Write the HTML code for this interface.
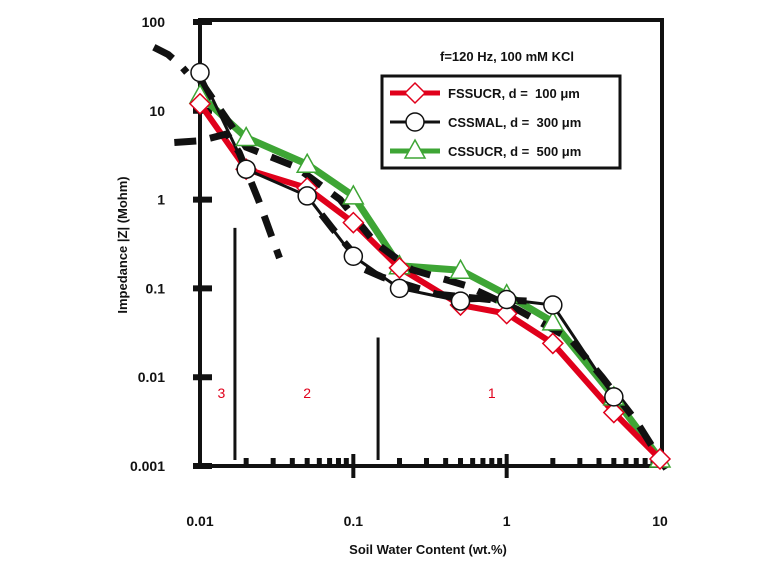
<!DOCTYPE html>
<html><head><meta charset="utf-8"><style>
body{margin:0;background:#fff;}
svg{display:block;font-family:"Liberation Sans",sans-serif;}
</style></head><body>
<svg id="c" width="760" height="566"></svg>
<script>
const xTickVals=[0.01,0.1,1,10];
const xTickLabels=["0.01","0.1","1","10"];
const yTickVals=[100,10,1,0.1,0.01,0.001];
const yTickLabels=["100","10","1","0.1","0.01","0.001"];
const fsX=[0.01,0.02,0.05,0.1,0.2,0.5,1,2,5,10];
const fsY=[12,2.2,1.35,0.55,0.17,0.065,0.052,0.024,0.004,0.0012];
const csmX=[0.01,0.02,0.05,0.1,0.2,0.5,1,2,5];
const csmY=[27,2.2,1.1,0.23,0.1,0.072,0.075,0.065,0.006];
const csuX=[0.01,0.02,0.05,0.1,0.2,0.5,1,2,5,10];
const csuY=[15,5,2.5,1.1,0.18,0.16,0.085,0.042,0.006,0.0012];
const fitAX=[0.0050,0.0062,0.0074,0.0082];
const fitAY=[52,43,33,27];
const fitBX=[0.0068,0.01,0.015,0.018,0.024,0.033];
const fitBY=[4.4,4.6,5.5,3.4,1.0,0.22];
const fitCX=[0.01,0.02,0.042,0.082,0.138,0.24,0.54,1.17,2.6,4.2,7.0,11.0];
const fitCY=[22,3.9,2.35,1.0,0.33,0.163,0.108,0.058,0.027,0.01,0.0032,0.00093];
const fitEX=[0.062,0.074,0.1,0.107,0.156,0.35,0.77,1.65];
const fitEY=[0.68,0.46,0.25,0.177,0.133,0.086,0.075,0.071];
const regionLabels=["3","2","1"];
const regionX=[0.0138,0.05,0.8];
const sepX=[0.0169,0.145];
const sepTop=[0.48,0.028];

const X0=200,X1=660,Y0=466,Y1=22;
function sx(v){return X0+(Math.log10(v)+2)/3*(X1-X0);}
function sy(v){return Y0-(Math.log10(v)+3)/5*(Y0-Y1);}
const svg=document.getElementById('c');
const NS='http://www.w3.org/2000/svg';
function el(t,a,p){const e=document.createElementNS(NS,t);for(const k in a)e.setAttribute(k,a[k]);(p||svg).appendChild(e);return e;}
function txt(x,y,s,a){const e=el('text',Object.assign({x:x,y:y},a||{}));e.textContent=s;return e;}

let f=el('path',{d:`M${X0} ${Y0}V20H${X1+2}V${Y0}`,fill:'none',stroke:'#111','stroke-width':4});

let xa=el('line',{x1:X0,y1:Y0,x2:X1+2,y2:Y0,stroke:'#111','stroke-width':4});

yTickVals.forEach((v,i)=>{
 let t=el('line',{x1:193,x2:212,y1:sy(v),y2:sy(v),stroke:'#111','stroke-width':6});
 
 let l=txt(165,sy(v)+5,yTickLabels[i],{'text-anchor':'end','font-size':14,'font-weight':'bold',fill:'#111'});
 
});
for(let d=-2;d<1;d++){for(let m=2;m<=9;m++){
 const x=sx(m*Math.pow(10,d));
 let t=el('rect',{x:x-2.5,y:Y0-8,width:5,height:8,fill:'#111'});
 
}}
xTickVals.forEach((v,i)=>{
 if(i>0&&i<3){let t=el('line',{x1:sx(v),x2:sx(v),y1:Y0-12,y2:Y0+12,stroke:'#111','stroke-width':4});
 }
 let l=txt(sx(v),Y0+60,xTickLabels[i],{'text-anchor':'middle','font-size':14,'font-weight':'bold',fill:'#111'});
 
});
sepX.forEach((v,i)=>{let s=el('line',{x1:sx(v),x2:sx(v),y1:sy(sepTop[i]),y2:Y0-6,stroke:'#111','stroke-width':3});
 });
regionLabels.forEach((s,i)=>{let l=txt(sx(regionX[i]),398,s,{'text-anchor':'middle','font-size':14,fill:'#e0001b'});
 });

function pts(xs,ys){return xs.map((x,i)=>sx(x)+','+sy(ys[i])).join(' ');}
let g=el('polyline',{points:pts(csuX,csuY),fill:'none',stroke:'#3ea535','stroke-width':7,'stroke-linejoin':'round'});

let r=el('polyline',{points:pts(fsX,fsY),fill:'none',stroke:'#e0001b','stroke-width':6,'stroke-linejoin':'round'});

let b=el('polyline',{points:pts(csmX,csmY),fill:'none',stroke:'#111','stroke-width':3});

[[fitAX,fitAY],[fitBX,fitBY],[fitCX,fitCY],[fitEX,fitEY]].forEach(([xs,ys])=>{
 let d=el('polyline',{points:pts(xs,ys),fill:'none',stroke:'#111','stroke-width':7,'stroke-dasharray':'22 14'});
 
});
function tri(x,y,s){return `${x},${y-s} ${x+s},${y+s*0.8} ${x-s},${y+s*0.8}`;}
csuX.forEach((x,i)=>{let m=el('polygon',{points:tri(sx(x),sy(csuY[i]),10),fill:'#fff',stroke:'#3ea535','stroke-width':1.5});
 });
fsX.forEach((x,i)=>{const cx=sx(x),cy=sy(fsY[i]);let m=el('polygon',{points:`${cx},${cy-10} ${cx+10},${cy} ${cx},${cy+10} ${cx-10},${cy}`,fill:'#fff',stroke:'#e0001b','stroke-width':1.5});
 });
csmX.forEach((x,i)=>{let m=el('circle',{cx:sx(x),cy:sy(csmY[i]),r:9,fill:'#fff',stroke:'#111','stroke-width':1.5});
 });

let lt=txt(507,61,'f=120 Hz, 100 mM KCl',{'text-anchor':'middle','font-size':13,'font-weight':'bold',fill:'#111'});

let lb=el('rect',{x:382,y:76,width:238,height:92,fill:'#fff',stroke:'#111','stroke-width':3});

const legNames=['FSSUCR, d =\u00a0\u00a0100 \u03bcm','CSSMAL, d =\u00a0\u00a0300 \u03bcm','CSSUCR, d =\u00a0\u00a0500 \u03bcm'];
const legCols=['#e0001b','#111','#3ea535'];
legNames.forEach((n,i)=>{const y=93+i*29;
 let ln=el('line',{x1:390,x2:440,y1:y,y2:y,stroke:legCols[i],'stroke-width':i==1?3:5});
 
 let m;
 if(i==0)m=el('polygon',{points:`415,${y-10} 425,${y} 415,${y+10} 405,${y}`,fill:'#fff',stroke:legCols[i],'stroke-width':1.5});
 else if(i==1)m=el('circle',{cx:415,cy:y,r:9,fill:'#fff',stroke:'#111','stroke-width':1.5});
 else m=el('polygon',{points:tri(415,y-1,10),fill:'#fff',stroke:legCols[i],'stroke-width':1.5});
 
 let t=txt(448,y+5,n,{'font-size':13,'font-weight':'bold',fill:'#111'});
 
});
let xt=txt(428,554,'Soil Water Content (wt.%)',{'text-anchor':'middle','font-size':13,'font-weight':'bold',fill:'#111'});

let yt=txt(0,0,'Impedance |Z| (Mohm)',{'text-anchor':'middle','font-size':13,'font-weight':'bold',fill:'#111',transform:'translate(127,245) rotate(-90)'});

</script>
</body></html>
